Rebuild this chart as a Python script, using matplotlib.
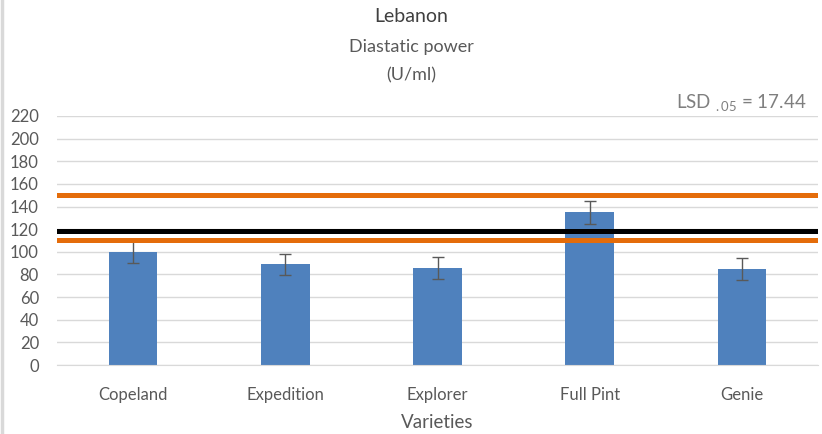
import matplotlib.pyplot as plt
from matplotlib.lines import Line2D

## Data
varieties = ["Copeland", "Expedition", "Explorer", "Full Pint", "Genie"]
diastatic_power = [100, 89, 85.5, 135, 84.5]
error = [9.7, 9.3, 9.5, 10, 9.7]
mean_line = 118
upper_line = 150.5
lower_line = 110.5
y_ticks = list(range(0, 221, 20))

## Style
plt.rcParams["font.family"] = ["Lato", "DejaVu Sans"]
plt.rcParams["mathtext.fontset"] = "custom"
plt.rcParams["mathtext.rm"] = "Lato"
text_color = "#595959"
bar_color = "#4f81bd"
orange = "#e46c0a"

fig = plt.figure(figsize=(8.22, 4.34), dpi=100)
ax = fig.add_axes([57 / 822, 1 - 365 / 434, (818 - 57) / 822, (365 - 116) / 434])

# Bars with error bars.
x = range(len(varieties))
ax.bar(x, diastatic_power, width=0.32, color=bar_color, zorder=2)
ax.errorbar(x, diastatic_power, yerr=error, fmt="none", ecolor=text_color,
            elinewidth=1, capsize=4, capthick=1, zorder=3)

# Reference lines (mean and LSD band).
ax.axhline(upper_line, color=orange, linewidth=3.6, zorder=4)
ax.axhline(lower_line, color=orange, linewidth=3.6, zorder=4)
ax.axhline(mean_line, color="black", linewidth=3.6, zorder=5)

# Axes and grid.
ax.set_xlim(-0.5, len(varieties) - 0.5)
ax.set_ylim(0, 220)
ax.set_yticks(y_ticks)
ax.set_xticks(list(x))
ax.set_xticklabels(varieties)
ax.grid(axis="y", color="#d9d9d9", linewidth=1, zorder=0)
ax.set_axisbelow(True)
for side in ["top", "right", "left"]:
  ax.spines[side].set_visible(False)
ax.spines["bottom"].set_color("#d9d9d9")
ax.tick_params(axis="both", length=0, labelsize=12, labelcolor=text_color)
ax.tick_params(axis="y", pad=13)
ax.tick_params(axis="x", pad=16)
ax.set_xlabel("Varieties", fontsize=13.5, color=text_color, labelpad=8)

# Titles.
fig.text(0.5, 1 - 17 / 434, "Lebanon", ha="center", va="center", fontsize=14, color="#404040")
fig.text(0.5, 1 - 47 / 434, "Diastatic power", ha="center", va="center", fontsize=13, color=text_color)
fig.text(0.5, 1 - 75 / 434, "(U/ml)", ha="center", va="center", fontsize=13, color=text_color)
fig.text(806 / 822, 1 - 103 / 434, r"LSD $_{\mathrm{.05}}$ = 17.44", ha="right", va="center",
         fontsize=13.5, color="#7f7f7f")

# Chart border on the left edge.
fig.add_artist(Line2D([1.5 / 822, 1.5 / 822], [0, 1], color="#d9d9d9", linewidth=2.5))

fig.savefig("out.png", dpi=100)
